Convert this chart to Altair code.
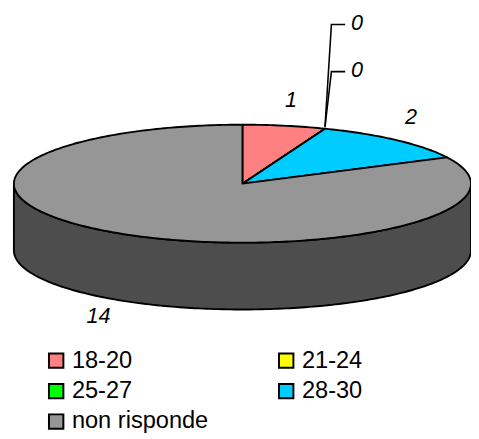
import math
import altair as alt

categories = ["18-20", "21-24", "25-27", "28-30", "non risponde"]
values = [1, 0, 0, 2, 14]
colors = ["#ff8080", "#ffff00", "#00ff00", "#00ccff", "#969696"]
legend_order = ["18-20", "25-27", "non risponde", "21-24", "28-30"]
label_texts = ["1", "0", "0", "2", "14"]
label_spots = [(296, 98), (363, 20), (363, 67), (418, 115), (100, 318)]

CX, CY, RX, RY, DEPTH = 246.5, 183.0, 232.5, 60.0, 68.0
WALL = "#4d4d4d"
total = sum(values)
color_of = dict(zip(categories, colors))


def rim(angle, drop=0.0):
    rad = math.radians(angle)
    return [CX + RX * math.sin(rad), CY - RY * math.cos(rad) + drop]


def arc(a0, a1, drop=0.0):
    n = max(1, int(abs(a1 - a0)))
    return [rim(a0 + (a1 - a0) * i / n, drop) for i in range(n + 1)]


features = []
start = 0.0
edges = []
for cat, val in zip(categories, values):
    end = start + 360.0 * val / total
    ring = [[CX, CY]] + arc(start, end) + [[CX, CY]]
    features.append({"type": "Feature",
                     "properties": {"cat": cat},
                     "geometry": {"type": "Polygon", "coordinates": [ring]}})
    edges.append(end)
    start = end

front = arc(90, 270)
wall_ring = front + arc(270, 90, DEPTH) + [front[0]]
wall = [{"type": "Feature", "properties": {},
         "geometry": {"type": "Polygon", "coordinates": [wall_ring]}}]

tip = rim(edges[0])
leaders = [{"type": "Feature", "properties": {},
            "geometry": {"type": "LineString",
                         "coordinates": [[tip[0], tip[1] - 2],
                                         [label_spots[i][0] - 26, label_spots[i][1] + (1 if i == 1 else 2)],
                                         [label_spots[i][0] - 12, label_spots[i][1] + (1 if i == 1 else 2)]]}}
           for i in (1, 2)]

labels = [{"t": t, "lon": p[0], "lat": p[1]} for t, p in zip(label_texts, label_spots)]

proj = dict(type="identity", scale=1, translate=[-8, -8])

wall_layer = alt.Chart(alt.Data(values=wall)).mark_geoshape(
    fill=WALL, stroke="black", strokeWidth=1.9).project(**proj)

slices = alt.Chart(alt.Data(values=features)).mark_geoshape(
    stroke="black", strokeWidth=1.9, strokeJoin="round").encode(
    fill=alt.Fill("properties.cat:N",
                  scale=alt.Scale(domain=legend_order,
                                  range=[color_of[c] for c in legend_order]),
                  legend=alt.Legend(title=None, orient="none", legendX=37, legendY=343,
                                    columns=2, columnPadding=67, rowPadding=7,
                                    symbolType="square", symbolSize=215,
                                    symbolStrokeColor="black", symbolStrokeWidth=2,
                                    labelFont="Liberation Sans", labelFontSize=24,
                                    labelColor="black", labelOffset=4,
                                    labelLimit=300))
).project(**proj)

leader_layer = alt.Chart(alt.Data(values=leaders)).mark_geoshape(
    filled=False, stroke="black", strokeWidth=1.6).project(**proj)

text_layer = alt.Chart(alt.Data(values=labels)).mark_text(
    font="Liberation Sans", fontSize=22, fontStyle="italic", color="black",
    align="center", baseline="middle").encode(
    longitude="lon:Q", latitude="lat:Q", text="t:N"
).project(**proj)

chart = alt.layer(wall_layer, slices, leader_layer, text_layer).properties(
    width=471, height=431, padding=0, autosize=alt.AutoSizeParams(type="none"),
    usermeta={"embedOptions": {"defaultStyle": "svg{flex:none;overflow:visible}"}}
).configure_view(stroke=None)

chart.save("out.html", embed_options={"renderer": "svg", "actions": False})
